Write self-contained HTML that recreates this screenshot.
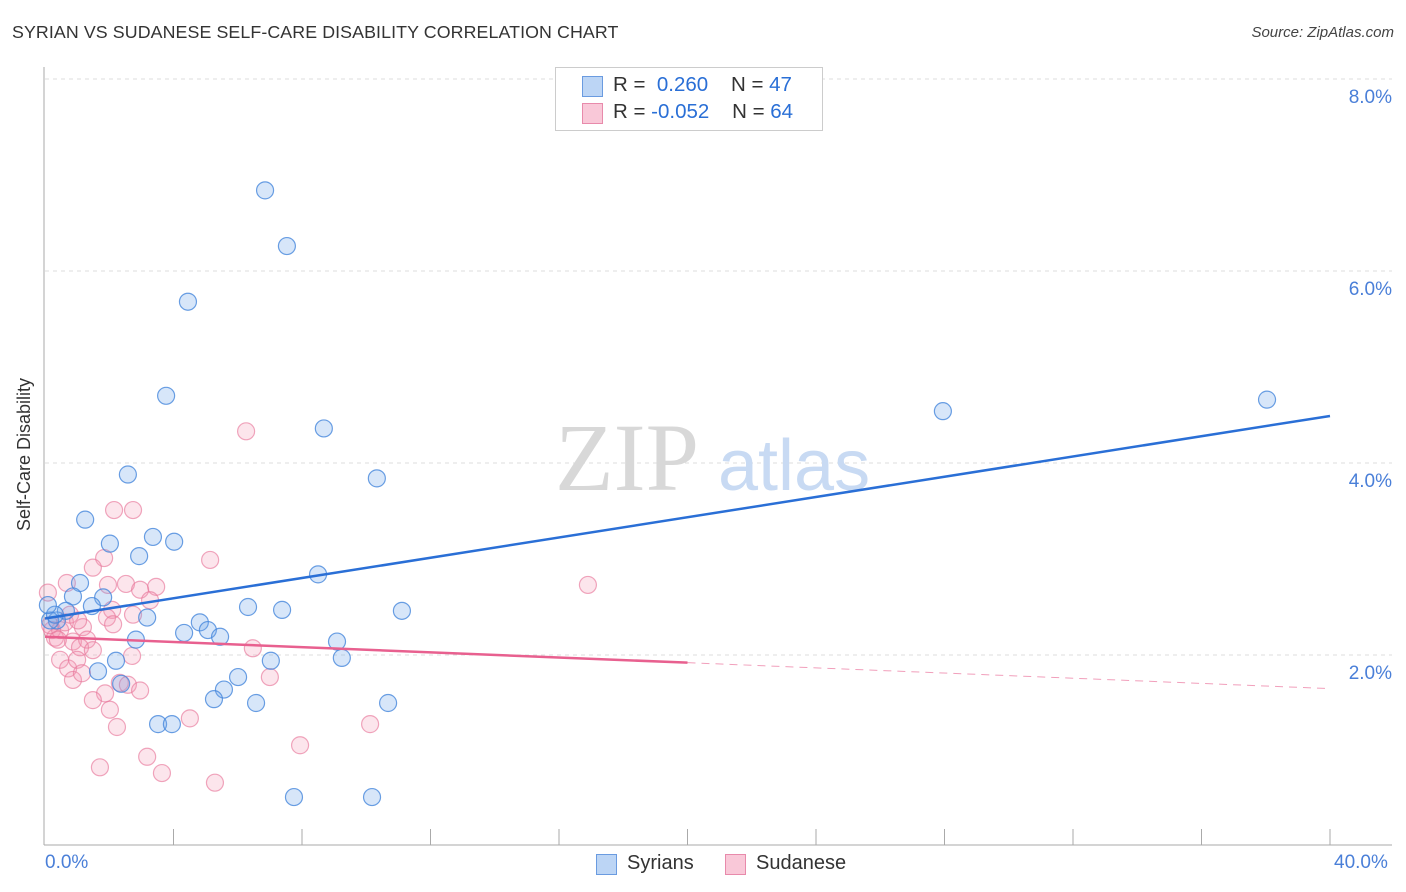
<!DOCTYPE html>
<html><head><meta charset="utf-8"><style>
body{margin:0;background:#fff;font-family:"Liberation Sans",sans-serif;}
#wrap{position:relative;width:1406px;height:892px;overflow:hidden}
.t{position:absolute;white-space:nowrap}
</style></head><body><div id="wrap">
<div class="t" style="left:12px;top:22px;font-size:17.8px;color:#333;letter-spacing:0.1px">SYRIAN VS SUDANESE SELF-CARE DISABILITY CORRELATION CHART</div>
<div class="t" style="right:12px;top:24px;font-size:15px;color:#444;font-style:italic">Source: ZipAtlas.com</div>
<svg id="svg" width="1406" height="892" style="position:absolute;left:0;top:0"></svg>
</div>
<script>
const yTicks=[2,4,6,8];
const yTickLabels=["2.0%","4.0%","6.0%","8.0%"];
const xTicks=[4,8,12,16,20,24,28,32,36,40];
const syrX=[6.85,7.53,4.45,3.77,8.68,27.95,38.04,2.58,10.33,1.25,3.36,4.02,2.02,2.93,8.50,1.09,0.87,1.81,1.46,0.65,6.32,7.38,11.11,3.18,0.37,4.82,5.07,4.33,5.45,2.83,9.09,0.16,0.31,2.21,7.03,9.24,1.65,6.01,2.37,5.57,5.26,6.57,10.68,3.52,3.95,7.75,10.18,0.09];
const syrY=[6.84,6.26,5.68,4.70,4.36,4.54,4.66,3.88,3.84,3.41,3.23,3.18,3.16,3.03,2.84,2.75,2.61,2.60,2.51,2.46,2.50,2.47,2.46,2.39,2.36,2.34,2.26,2.23,2.19,2.16,2.14,2.36,2.42,1.94,1.94,1.97,1.83,1.77,1.70,1.64,1.54,1.50,1.50,1.28,1.28,0.52,0.52,2.52];
const sudX=[2.15,2.74,1.84,1.49,5.14,0.68,1.96,2.52,3.46,2.96,3.27,2.09,2.74,1.93,2.12,1.18,0.87,1.31,1.09,0.47,0.72,1.00,1.49,2.71,6.47,7.00,0.87,1.15,2.33,2.58,2.96,1.87,1.49,2.02,2.24,4.51,10.12,3.18,7.94,1.71,3.64,5.29,6.26,16.90,0.09,0.22,0.31,0.47,0.16,0.62,0.78,1.03,0.40];
const sudY=[3.51,3.51,3.01,2.91,2.99,2.75,2.73,2.74,2.71,2.68,2.57,2.47,2.42,2.39,2.32,2.29,2.14,2.16,2.08,1.95,1.86,1.95,2.05,1.99,2.07,1.77,1.74,1.81,1.71,1.69,1.63,1.60,1.53,1.43,1.25,1.34,1.28,0.94,1.06,0.83,0.77,0.67,4.33,2.73,2.65,2.26,2.18,2.26,2.31,2.34,2.42,2.36,2.16];
const syrTrend=[2.38,4.49];
const sudTrend=[2.19,1.65];
const sudSolidEnd=20;

const X=v=>45+v/40*1285, Y=v=>847-v*96;
const svg=document.getElementById('svg');const NS='http://www.w3.org/2000/svg';
function mk(tag,a){const e=document.createElementNS(NS,tag);for(const k in a)e.setAttribute(k,a[k]);svg.appendChild(e);return e;}
yTicks.forEach((v,i)=>{
 const g=mk('line',{x1:45,x2:1392,y1:Y(v),y2:Y(v),stroke:'#ddd','stroke-dasharray':'4,4'});
 
 
 const t=mk('text',{x:1392,y:Y(v)+24,'text-anchor':'end','font-size':19,fill:'#4a7fd8','font-family':'Liberation Sans'});t.textContent=yTickLabels[i];
 
 
});
const wm1=mk('text',{x:555,y:490,'font-size':96,fill:'#d8d8d8','font-family':'Liberation Serif'});wm1.textContent='ZIP';


const wm2=mk('text',{x:718,y:490,'font-size':72,fill:'#c8daf3','font-family':'Liberation Sans'});wm2.textContent='atlas';


let ax=mk('line',{x1:44,x2:44,y1:67,y2:845,stroke:'#aaa'});


ax=mk('line',{x1:44,x2:1392,y1:845,y2:845,stroke:'#aaa'});


xTicks.forEach(v=>{const l=mk('line',{x1:X(v),x2:X(v),y1:829,y2:845,stroke:'#aaa'});
 
 });
function dots(xs,ys,fill,stroke,name){xs.forEach((x,i)=>{const c=mk('circle',{cx:X(x),cy:Y(ys[i]),r:8.5,fill:fill,stroke:stroke,'stroke-width':1.2});
 
 });}
dots(sudX,sudY,'rgba(244,150,180,0.25)','rgba(232,120,155,0.65)','sudanese-point');
dots(syrX,syrY,'rgba(110,165,235,0.28)','rgba(70,135,220,0.8)','syrian-point');
let tl=mk('line',{x1:X(0),y1:Y(syrTrend[0]),x2:X(40),y2:Y(syrTrend[1]),stroke:'#2a6fd6','stroke-width':2.5});


const sy=x=>sudTrend[0]+(sudTrend[1]-sudTrend[0])*x/40;
tl=mk('line',{x1:X(0),y1:Y(sy(0)),x2:X(sudSolidEnd),y2:Y(sy(sudSolidEnd)),stroke:'#e8608f','stroke-width':2.5});


tl=mk('line',{x1:X(sudSolidEnd),y1:Y(sy(sudSolidEnd)),x2:X(40),y2:Y(sy(40)),stroke:'#e8608f','stroke-width':1,'stroke-dasharray':'8,6',opacity:0.6});


</script>
<div class="t" style="left:45px;top:852px;font-size:19px;color:#4a7fd8">0.0%</div>
<div class="t" style="left:1334px;top:852px;font-size:19px;color:#4a7fd8">40.0%</div>
<div class="t" style="left:-52px;top:444px;font-size:18px;color:#333;transform:rotate(-90deg)">Self-Care Disability</div>
<div style="position:absolute;left:555px;top:67px;width:266px;height:62px;border:1px solid #ccc;background:#fff">
 <div style="position:absolute;left:26px;top:8px;width:19px;height:19px;background:#bcd5f5;border:1px solid #6a9be0"></div>
 <div class="t" style="left:57px;top:5px;font-size:20.5px;color:#333">R = &nbsp;<span style="color:#2a6fd6">0.260</span>&nbsp;&nbsp;&nbsp; N = <span style="color:#2a6fd6">47</span></div>
 <div style="position:absolute;left:26px;top:35px;width:19px;height:19px;background:#f9c8d8;border:1px solid #e88aab"></div>
 <div class="t" style="left:57px;top:32px;font-size:20.5px;color:#333">R = <span style="color:#2a6fd6">-0.052</span>&nbsp;&nbsp;&nbsp; N = <span style="color:#2a6fd6">64</span></div>
</div>
<div style="position:absolute;left:596px;top:854px;width:19px;height:19px;background:#bcd5f5;border:1px solid #6a9be0"></div>
<div class="t" style="left:627px;top:852px;font-size:20px;color:#333">Syrians</div>
<div style="position:absolute;left:725px;top:854px;width:19px;height:19px;background:#f9c8d8;border:1px solid #e88aab"></div>
<div class="t" style="left:756px;top:852px;font-size:20px;color:#333">Sudanese</div>
</body></html>
